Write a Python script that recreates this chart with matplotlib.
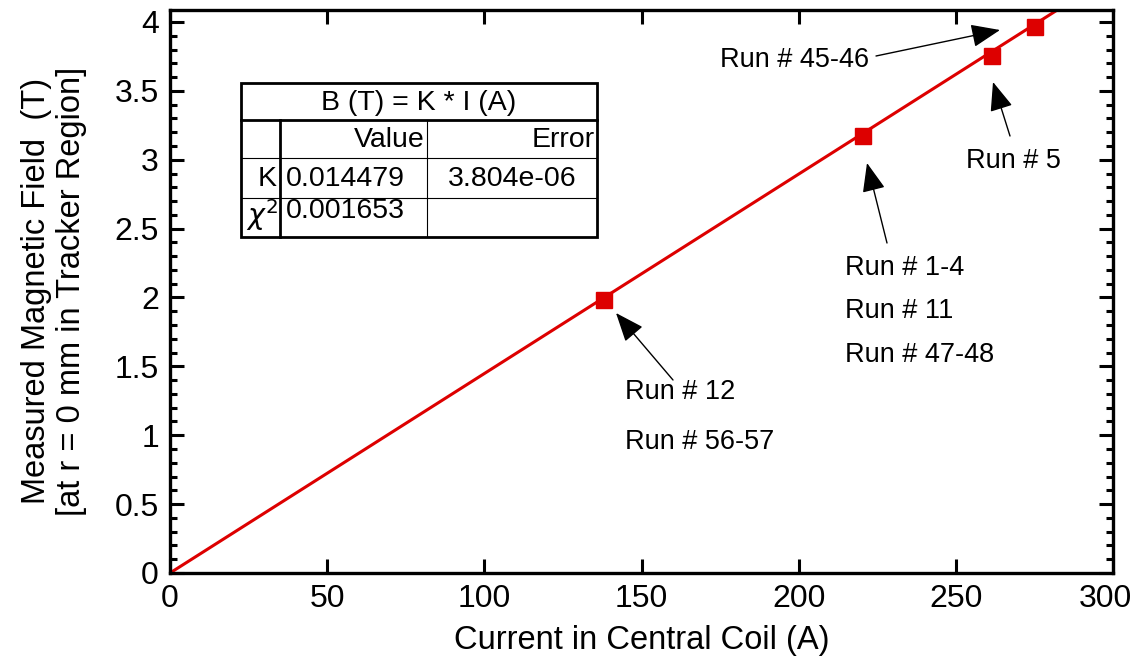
import matplotlib
matplotlib.use("Agg")
import matplotlib.pyplot as plt
import numpy as np
from matplotlib.ticker import MultipleLocator, FuncFormatter
from matplotlib.lines import Line2D
from matplotlib.patches import Rectangle
import matplotlib.transforms as mtransforms

plt.rcParams['font.family'] = ['Liberation Sans', 'DejaVu Sans']

current = [138.1, 220.6, 261.6, 275.3]
field = [1.985, 3.17, 3.755, 3.965]
K = 0.014479
K_err = "3.804e-06"
chi2 = "0.001653"
fit_range = [0, 290]
x_max = 300

RED = "#dd0000"
W, H = 1136, 666
fig = plt.figure(figsize=(W / 100, H / 100), dpi=100)
ax = fig.add_axes([170 / W, 1 - 573 / H, (1113 - 170) / W, (573 - 10) / H])

xf = np.array(fit_range, dtype=float)
ax.plot(xf, K * xf, color=RED, lw=2.2, zorder=2)
ax.plot(current, field, 's', color=RED, ms=12, zorder=3)

ax.set_xlim(0, x_max)
ax.set_ylim(0, 4.087)
ax.xaxis.set_major_locator(MultipleLocator(50))
ax.yaxis.set_major_locator(MultipleLocator(0.5))
ax.yaxis.set_minor_locator(MultipleLocator(0.1))
ax.tick_params(which='both', direction='in', top=True, right=True, width=2.2, labelsize=23, colors='black')
ax.tick_params(which='major', length=10, pad=8)
ax.tick_params(which='minor', length=5)
ax.tick_params(axis='x', which='minor', bottom=False, top=False)
for s in ax.spines.values():
    s.set_linewidth(2.4)

ax.xaxis.set_major_formatter(FuncFormatter(lambda v, pos: "" if v >= x_max else f"{v:g}"))
ax.yaxis.set_major_formatter(FuncFormatter(lambda v, pos: f"{v:g}"))
# last x tick label, nudged left so it fits in the figure
off = mtransforms.offset_copy(ax.get_xaxis_transform(), fig=fig, x=-8, y=-11, units='dots')
ax.text(x_max, 0, f"{x_max:g}", transform=off, fontsize=23, ha='center', va='top')

ax.set_xlabel("Current in Central Coil (A)", fontsize=23.5, labelpad=8)

def fp(x, y):
    return (x / W, 1 - y / H)

fig.text(*fp(54, 291), "Measured Magnetic Field  (T)\n[at r = 0 mm in Tracker Region]",
         fontsize=23.5, rotation=90, ha='center', va='center', multialignment='center', linespacing=1.2)

arrow_kw = dict(arrowstyle="-|>,head_length=1.8,head_width=0.72", color="black", lw=1.0, shrinkA=0, shrinkB=0)
anno_fs = 19.5

def arrow(xy, xytext):
    ax.annotate("", xy=fp(*xy), xytext=fp(*xytext), xycoords='figure fraction',
                textcoords='figure fraction', arrowprops=arrow_kw)

arrow((1000, 30), (876, 56))
fig.text(*fp(720, 60), "Run # 45-46", fontsize=anno_fs, va='center', ha='left')

arrow((993, 82), (1010, 136))
fig.text(*fp(966, 161), "Run # 5", fontsize=anno_fs, va='center', ha='left')

arrow((867, 163), (887, 243))
for t, yy in [("Run # 1-4", 268), ("Run # 11", 311), ("Run # 47-48", 355)]:
    fig.text(*fp(845, yy), t, fontsize=anno_fs, va='center', ha='left')

arrow((616, 313), (673, 380))
for t, yy in [("Run # 12", 392), ("Run # 56-57", 442)]:
    fig.text(*fp(625, yy), t, fontsize=anno_fs, va='center', ha='left')

# fit results table
x0, x1, x2, x3 = 241, 280, 427, 597
y0, y1, y2, y3, y4 = 83, 120, 158, 198, 237
def hline(xa, xb, y, lw=1.0):
    fig.add_artist(Line2D([xa / W, xb / W], [1 - y / H, 1 - y / H], color='black', lw=lw, zorder=6))
def vline(x, ya, yb, lw=1.0):
    fig.add_artist(Line2D([x / W, x / W], [1 - ya / H, 1 - yb / H], color='black', lw=lw, zorder=6))
fig.add_artist(Rectangle((x0 / W, 1 - y4 / H), (x3 - x0) / W, (y4 - y0) / H, transform=fig.transFigure,
                         facecolor='white', edgecolor='none', zorder=4))
hline(x0, x3, y1, 2.0)
hline(x0, x3, y2, 0.8)
hline(x0, x3, y3, 0.8)
vline(x1, y1, y4, 2.0)
vline(x2, y1, y4, 0.8)
fig.add_artist(Rectangle((x0 / W, 1 - y4 / H), (x3 - x0) / W, (y4 - y0) / H, transform=fig.transFigure,
                         facecolor='none', edgecolor='black', lw=2.0, zorder=7))
tfs = 20.5
fig.text(*fp((x0 + x3) / 2, (y0 + y1) / 2 + 1), "B (T) = K * I (A)", fontsize=tfs, ha='center', va='center', zorder=8)
fig.text(*fp(x2 - 2, (y1 + y2) / 2 + 1), "Value", fontsize=tfs, ha='right', va='center', zorder=8)
fig.text(*fp(x3 - 2, (y1 + y2) / 2 + 1), "Error", fontsize=tfs, ha='right', va='center', zorder=8)
fig.text(*fp(x1 - 3, (y2 + y3) / 2 + 1), "K", fontsize=tfs, ha='right', va='center', zorder=8)
fig.text(*fp(x1 + 6, (y2 + y3) / 2 + 1), f"{K:.6f}", fontsize=tfs, ha='left', va='center', zorder=8)
fig.text(*fp((x2 + x3) / 2, (y2 + y3) / 2 + 1), K_err, fontsize=tfs, ha='center', va='center', zorder=8)
fig.text(*fp(x1 - 2, y4 - 4), r"$\chi^2$", fontsize=tfs, ha='right', va='bottom', zorder=8)
fig.text(*fp(x1 + 6, (y3 + y4) / 2 - 6), chi2, fontsize=tfs, ha='left', va='center', zorder=8)

fig.savefig("out.png", dpi=100)
